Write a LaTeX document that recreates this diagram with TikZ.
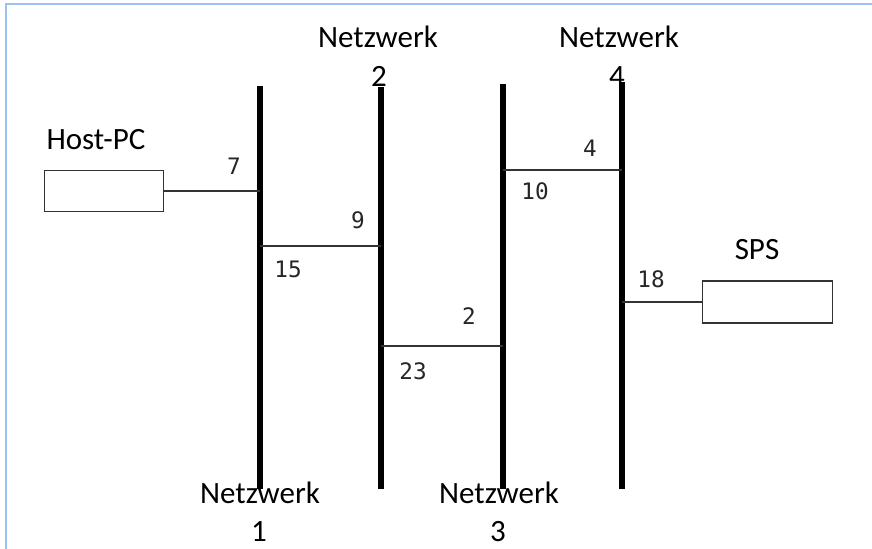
\documentclass[tikz,border=0pt]{standalone}
\usepackage{fontspec}
\setmainfont{Carlito}
\newfontfamily\monof{DejaVu Sans Mono}
\begin{document}
\begin{tikzpicture}[x=0.75pt,y=-0.75pt,
  bus/.style={line width=3.8pt},
  link/.style={line width=1.4pt, draw=black!80},
  dev/.style={draw=black!80, line width=1.4pt, inner sep=0, fill=white},
  lbl/.style={font=\fontsize{23.25}{28}\selectfont, inner sep=0, anchor=base},
  num/.style={font=\monof\fontsize{17}{20}\selectfont, inner sep=0, anchor=base, text=black!85}]
\useasboundingbox (0,0) rectangle (872,549);
\draw[color={rgb,255:red,153;green,194;blue,238}, line width=1.5pt] (6,549) -- (6,4) -- (872,4);

% buses
\coordinate (n1t) at (260,86);  \coordinate (n1b) at (260,489);
\coordinate (n2t) at (381,87);  \coordinate (n2b) at (381,489);
\coordinate (n3t) at (503,84);  \coordinate (n3b) at (503,489);
\coordinate (n4t) at (622,82);  \coordinate (n4b) at (622,489);
\draw[bus] (n1t) -- (n1b);
\draw[bus] (n2t) -- (n2b);
\draw[bus] (n3t) -- (n3b);
\draw[bus] (n4t) -- (n4b);

% devices
\node[dev, minimum width=89.25pt, minimum height=30.75pt] (host) at (104,191) {};
\node[dev, minimum width=97.5pt, minimum height=32pt] (sps) at (767.5,302) {};

% junctions
\coordinate (h1) at (260,191);
\coordinate (a1) at (260,246); \coordinate (a2) at (381,246);
\coordinate (b2) at (381,346); \coordinate (b3) at (503,346);
\coordinate (c3) at (503,170); \coordinate (c4) at (622,170);
\coordinate (s4) at (622,302);

\draw[link] (host.east) -- (h1);
\draw[link] (a1) -- (a2);
\draw[link] (b2) -- (b3);
\draw[link] (c3) -- (c4);
\draw[link] (s4) -- (sps.west);

% labels
\node[lbl] (thost) at (96,150) {Host-PC};
\node[lbl] (tsps) at (757,260) {SPS};
\node[lbl] (t2a) at (378,48) {Netzwerk};
\node[lbl] (t2b) at (379,87) {2};
\node[lbl] (t4a) at (619,48) {Netzwerk};
\node[lbl] (t4b) at (617,87) {4};
\node[lbl] (t1a) at (260,503) {Netzwerk};
\node[lbl] (t1b) at (259,541) {1};
\node[lbl] (t3a) at (499,503) {Netzwerk};
\node[lbl] (t3b) at (498,541) {3};

% port numbers
\node[num] (p7) at (234,175) {7};
\node[num] (p9) at (358,229) {9};
\node[num] (p15) at (288,277) {15};
\node[num] (p2) at (469,325) {2};
\node[num] (p23) at (413,379) {23};
\node[num] (p4) at (590,157) {4};
\node[num] (p10) at (535,200) {10};
\node[num] (p18) at (651,287) {18};
\end{tikzpicture}
\end{document}
